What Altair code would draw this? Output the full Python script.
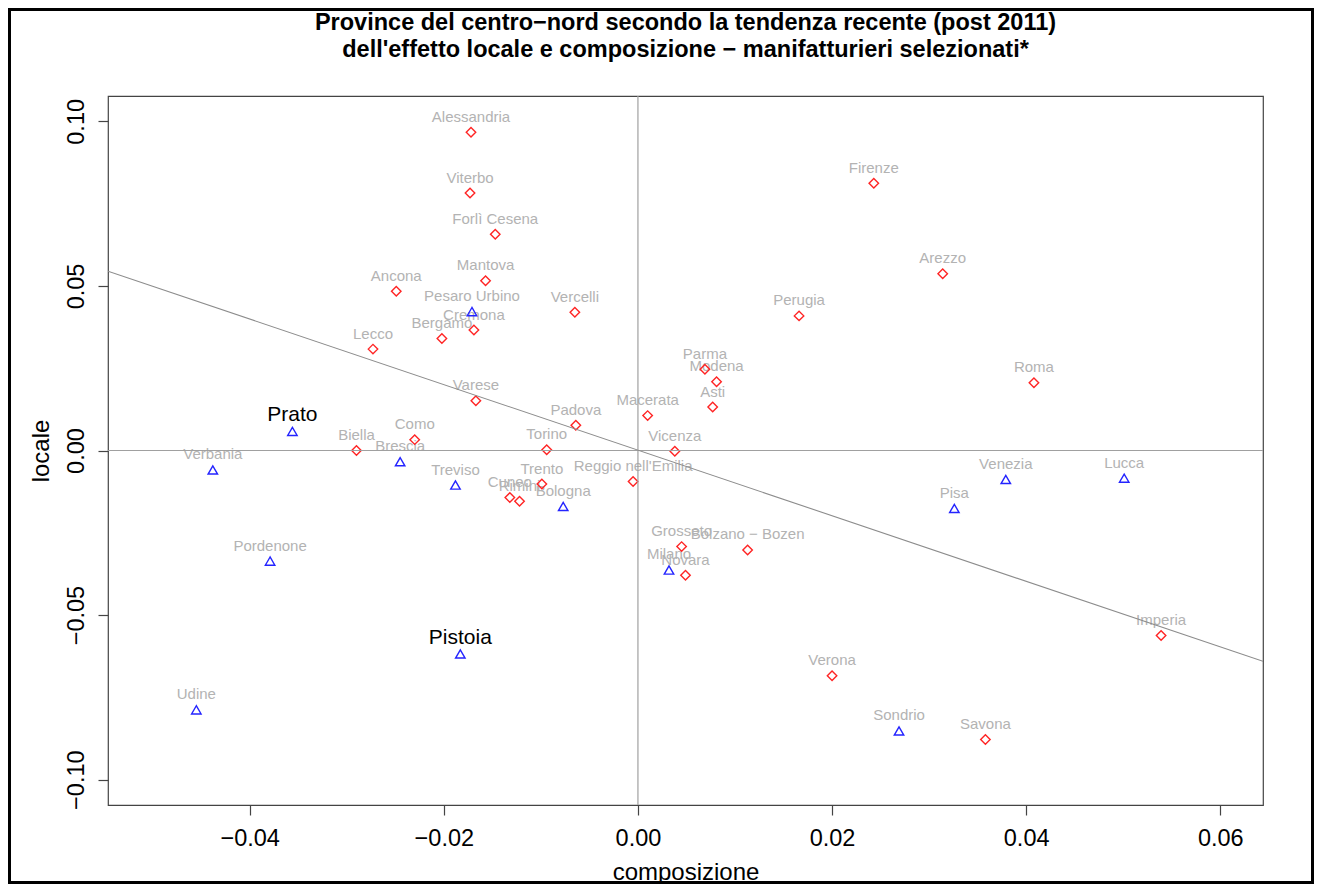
import altair as alt
import pandas as pd

# ---- data ----
names_red = ["Alessandria", "Viterbo", "Forlì Cesena", "Mantova", "Ancona", "Vercelli",
             "Cremona", "Bergamo", "Lecco", "Varese", "Padova", "Macerata", "Como",
             "Biella", "Torino", "Vicenza", "Reggio nell'Emilia", "Trento", "Cuneo",
             "Rimini", "Parma", "Modena", "Asti", "Perugia", "Firenze", "Arezzo", "Roma",
             "Grosseto", "Bolzano − Bozen", "Novara", "Imperia", "Verona", "Savona"]
comp_red = [-0.0172, -0.0173, -0.0147, -0.0157, -0.0249, -0.0065,
            -0.0169, -0.0202, -0.0273, -0.0167, -0.0064, 0.0010, -0.0230,
            -0.0290, -0.0094, 0.0038, -0.0005, -0.0099, -0.0132,
            -0.0122, 0.0069, 0.0081, 0.0077, 0.0166, 0.0243, 0.0314, 0.0408,
            0.0045, 0.0113, 0.0049, 0.0539, 0.0200, 0.0358]
loc_red = [0.0967, 0.0782, 0.0657, 0.0516, 0.0484, 0.0420,
           0.0366, 0.0340, 0.0308, 0.0151, 0.0077, 0.0106, 0.0033,
           0.0000, 0.0002, -0.0002, -0.0094, -0.0102, -0.0143,
           -0.0154, 0.0247, 0.0209, 0.0132, 0.0409, 0.0812, 0.0537, 0.0206,
           -0.0292, -0.0302, -0.0379, -0.0562, -0.0684, -0.0878]

names_blue = ["Pesaro Urbino", "Prato", "Brescia", "Verbania", "Treviso", "Bologna",
              "Pordenone", "Pistoia", "Udine", "Milano", "Venezia", "Lucca", "Pisa",
              "Sondrio"]
comp_blue = [-0.0171, -0.0356, -0.0245, -0.0438, -0.0188, -0.0077,
             -0.0379, -0.0183, -0.0455, 0.0032, 0.0379, 0.0501, 0.0326,
             0.0269]
loc_blue = [0.0422, 0.0058, -0.0034, -0.0059, -0.0105, -0.0170,
            -0.0336, -0.0618, -0.0788, -0.0363, -0.0088, -0.0084, -0.0176,
            -0.0852]

highlight = ["Prato", "Pistoia"]

fit_slope = -0.996
fit_intercept = 0.0001

x_ticks = [-0.04, -0.02, 0.0, 0.02, 0.04, 0.06]
y_ticks = [-0.10, -0.05, 0.0, 0.05, 0.10]
x_domain = [-0.0546, 0.0644]
y_domain = [-0.1077, 0.1077]

title_lines = ["Province del centro−nord secondo la tendenza recente (post 2011)",
               "dell'effetto locale e composizione − manifatturieri selezionati*"]

# ---- tables ----
df = pd.DataFrame({
    "provincia": names_red + names_blue,
    "composizione": comp_red + comp_blue,
    "locale": loc_red + loc_blue,
    "gruppo": ["rosso"] * len(names_red) + ["blu"] * len(names_blue),
})
df_gray = df[~df["provincia"].isin(highlight)]
df_black = df[df["provincia"].isin(highlight)]
zero_df = pd.DataFrame({"composizione": [0.0], "locale": [0.0]})
fit_df = pd.DataFrame({"composizione": x_domain,
                       "locale": [fit_intercept + fit_slope * v for v in x_domain]})
one_df = pd.DataFrame({"k": [0]})

FONT = "Liberation Sans"
W, H = 1155, 709
PAD = {"left": 100, "top": 88, "right": 51, "bottom": 79}

xs = alt.Scale(domain=x_domain, nice=False, zero=False)
ys = alt.Scale(domain=y_domain, nice=False, zero=False)

x_axis = alt.Axis(values=x_ticks, format=".2f", title="composizione", grid=False,
                  domain=False, ticks=True, tickSize=10, tickColor="#444", tickWidth=1.2,
                  labelFontSize=23.5, labelFont=FONT, labelColor="black",
                  labelPadding=30, labelBaseline="alphabetic", labelFlush=False,
                  labelOverlap=False, titleFontSize=24, titleFont=FONT,
                  titleFontWeight="normal", titleColor="black", titleX=W / 2,
                  titleY=74, titleBaseline="alphabetic", titleAlign="center")
y_axis = alt.Axis(values=y_ticks, format=".2f", title="locale", grid=False,
                  domain=False, ticks=True, tickSize=10, tickColor="#444", tickWidth=1.2,
                  labelFontSize=23.5, labelFont=FONT, labelColor="black",
                  labelAngle=270, labelAlign="center", labelBaseline="alphabetic",
                  labelPadding=15, labelFlush=False, labelOverlap=False,
                  titleFontSize=24, titleFont=FONT, titleFontWeight="normal",
                  titleColor="black", titleAngle=270, titleX=-60, titleY=H / 2,
                  titleBaseline="alphabetic", titleAlign="center")

labels_gray = alt.Chart(df_gray).mark_text(
    font=FONT, fontSize=15, color="#b3b3b3", baseline="alphabetic", align="center", dy=-10.5
).encode(
    x=alt.X("composizione:Q", scale=xs, axis=x_axis),
    y=alt.Y("locale:Q", scale=ys, axis=y_axis),
    text="provincia:N",
)

labels_black = alt.Chart(df_black).mark_text(
    font=FONT, fontSize=21, color="black", baseline="alphabetic", align="center", dy=-10
).encode(
    x=alt.X("composizione:Q", scale=xs),
    y=alt.Y("locale:Q", scale=ys),
    text="provincia:N",
)

points = alt.Chart(df).mark_point(filled=False, size=90, strokeWidth=1.4, opacity=1).encode(
    x=alt.X("composizione:Q", scale=xs),
    y=alt.Y("locale:Q", scale=ys),
    shape=alt.Shape("gruppo:N", scale=alt.Scale(domain=["rosso", "blu"],
                                                range=["diamond", "triangle-up"]),
                    legend=None),
    color=alt.Color("gruppo:N", scale=alt.Scale(domain=["rosso", "blu"],
                                                range=["#ff2424", "#2424ff"]),
                    legend=None),
)

vline = alt.Chart(zero_df).mark_rule(color="#a0a0a0", strokeWidth=1.2).encode(
    x=alt.X("composizione:Q", scale=xs))
hline = alt.Chart(zero_df).mark_rule(color="#a0a0a0", strokeWidth=1.2).encode(
    y=alt.Y("locale:Q", scale=ys))

fit_line = alt.Chart(fit_df).mark_line(color="#8c8c8c", strokeWidth=1.1, clip=True).encode(
    x=alt.X("composizione:Q", scale=xs),
    y=alt.Y("locale:Q", scale=ys),
)

title1 = alt.Chart(one_df).mark_text(
    text=title_lines[0], font=FONT, fontSize=23.5, fontWeight="bold", color="black",
    align="center", baseline="alphabetic"
).encode(x=alt.value(W / 2), y=alt.value(30 - 96))
title2 = alt.Chart(one_df).mark_text(
    text=title_lines[1], font=FONT, fontSize=23.5, fontWeight="bold", color="black",
    align="center", baseline="alphabetic"
).encode(x=alt.value(W / 2), y=alt.value(57 - 96))

frame = alt.Chart(one_df).mark_rect(filled=False, stroke="black", strokeWidth=3).encode(
    x=alt.value(-PAD["left"] + 1.5),
    x2=alt.value(W + PAD["right"] - 1.5),
    y=alt.value(-PAD["top"] + 1.5),
    y2=alt.value(H + PAD["bottom"] - 1.5),
)

chart = alt.layer(labels_gray, labels_black, points, vline, hline, fit_line,
                  title1, title2, frame).properties(
    width=W,
    height=H,
    padding=PAD,
    autosize=alt.AutoSizeParams(type="none"),
    background="white",
).configure_view(stroke="#444", strokeWidth=1.2)

chart.save("out.html", embed_options={"renderer": "svg", "actions": False})
